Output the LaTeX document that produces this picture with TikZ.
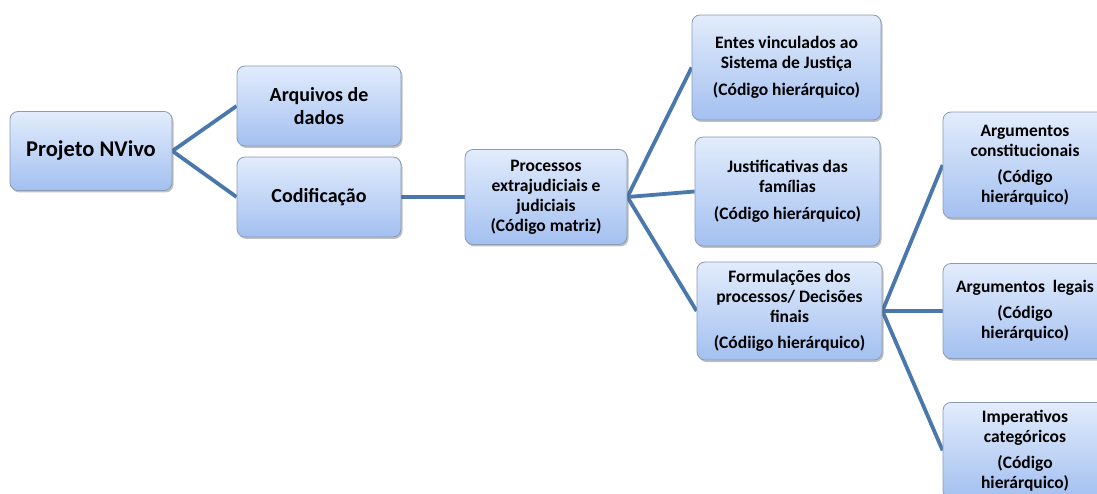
\documentclass[tikz,border=0pt]{standalone}
\usepackage{fontspec}
\setmainfont{Carlito}
\usetikzlibrary{shadows,backgrounds}
\definecolor{linkblue}{HTML}{4A78AC}
\definecolor{boxtop}{HTML}{E2ECFC}
\definecolor{boxbot}{HTML}{A3C0F0}
\definecolor{boxline}{HTML}{8A9BB5}
\tikzset{
  box/.style={draw=boxline, line width=0.8pt, rounded corners=8pt,
    top color=boxtop, bottom color=boxbot, align=center,
    inner sep=2pt, font=\bfseries\fontsize{17.5}{20}\selectfont,
    drop shadow={shadow xshift=1.5pt, shadow yshift=-2pt, opacity=0.35, fill=black!70}},
  bigbox/.style={box, font=\bfseries\fontsize{20}{23}\selectfont},
  link/.style={draw=linkblue, line width=3.8pt}
}
\begin{document}
\begin{tikzpicture}[x=1pt,y=-1pt]
\useasboundingbox (0,0) rectangle (1097,494);
\clip (0,0) rectangle (1097,494);
\node[box, minimum width=162pt, minimum height=79pt, font=\bfseries\fontsize{22.5}{26}\selectfont] (proj) at (91,151) {Projeto NVivo};
\node[bigbox, minimum width=164pt, minimum height=80pt] (arq) at (319,106) {Arquivos de\\dados};
\node[bigbox, minimum width=164pt, minimum height=80pt] (cod) at (319,197) {Codificação};
\node[box, minimum width=162pt, minimum height=95pt] (proc) at (546,197) {Processos\\extrajudiciais e\\judiciais\\(Código matriz)};
\node[box, minimum width=189pt, minimum height=105pt] (entes) at (786.5,67.5) {Entes vinculados ao\\Sistema de Justiça\\[7pt](Código hierárquico)};
\node[box, minimum width=185pt, minimum height=109pt] (just) at (787.5,191.5) {Justificativas das\\famílias\\[7pt](Código hierárquico)};
\node[box, minimum width=185pt, minimum height=98pt] (form) at (789.5,311) {Formulações dos\\processos/ Decisões\\finais\\[6pt](Códiigo hierárquico)};
\node[box, minimum width=164pt, minimum height=106pt] (argc) at (1025,165) {Argumentos\\constitucionais\\[6pt](Código\\hierárquico)};
\node[box, minimum width=164pt, minimum height=95pt] (argl) at (1025,311) {Argumentos~~legais\\[6pt](Código\\hierárquico)};
\node[box, minimum width=164pt, minimum height=96pt, anchor=north] (imp) at (1025,402) {Imperativos\\categóricos\\[6pt](Código\\hierárquico)};
\begin{pgfonlayer}{background}
\draw[link] (proj.east) -- (arq.west);
\draw[link] (proj.east) -- (cod.west);
\draw[link] (cod.east) -- (proc.west);
\draw[link] (proc.east) -- (entes.west);
\draw[link] (proc.east) -- (just.west);
\draw[link] (proc.east) -- (form.west);
\draw[link] (form.east) -- (argc.west);
\draw[link] (form.east) -- (argl.west);
\draw[link] (form.east) -- (imp.west);
\end{pgfonlayer}
\end{tikzpicture}
\end{document}
